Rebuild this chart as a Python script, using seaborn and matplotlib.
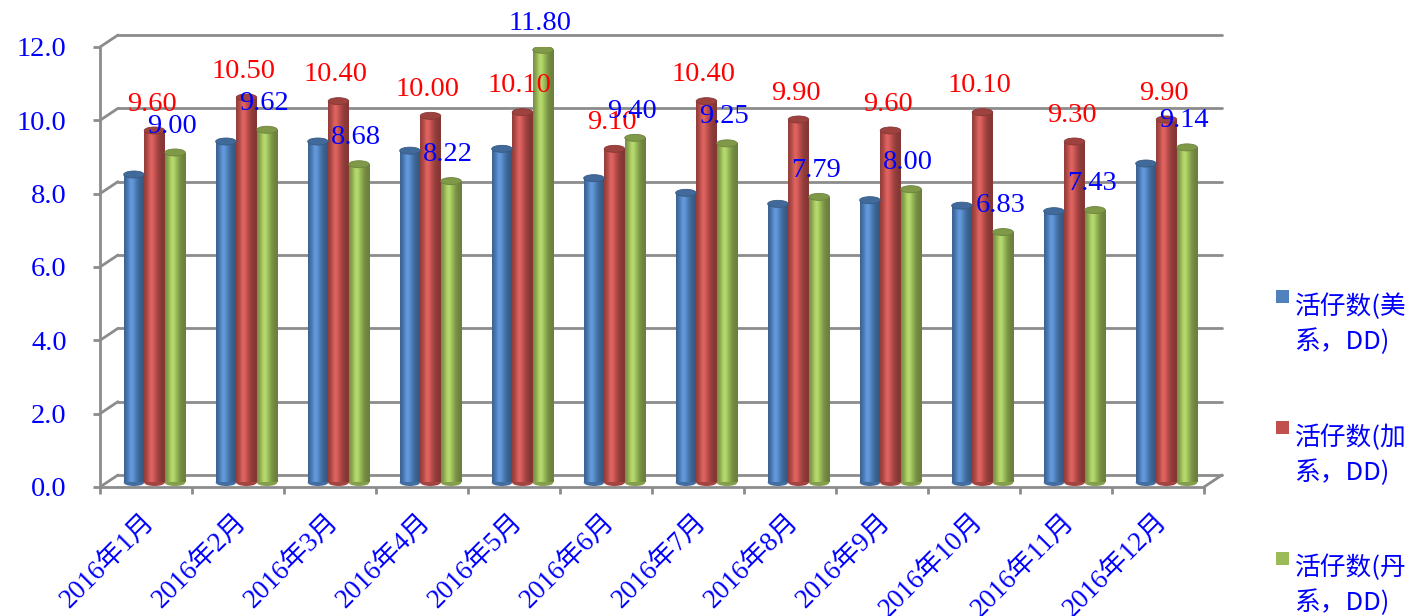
import numpy as np
import pandas as pd
import matplotlib
matplotlib.use("Agg")
import matplotlib.pyplot as plt
import matplotlib.transforms as mtransforms
from matplotlib.colors import to_rgb
from matplotlib.lines import Line2D
from matplotlib.patches import Ellipse, Rectangle
from matplotlib.legend_handler import HandlerPatch
import seaborn as sns

# ---- data -------------------------------------------------------------
months = ["2016年1月", "2016年2月", "2016年3月", "2016年4月", "2016年5月", "2016年6月",
          "2016年7月", "2016年8月", "2016年9月", "2016年10月", "2016年11月", "2016年12月"]
series = ["活仔数(美系，DD)", "活仔数(加系，DD)", "活仔数(丹系，DD)"]
us_vals = [8.40, 9.30, 9.30, 9.05, 9.10, 8.30, 7.90, 7.60, 7.70, 7.55, 7.40, 8.70]
ca_vals = [9.60, 10.50, 10.40, 10.00, 10.10, 9.10, 10.40, 9.90, 9.60, 10.10, 9.30, 9.90]
dk_vals = [9.00, 9.62, 8.68, 8.22, 11.80, 9.40, 9.25, 7.79, 8.00, 6.83, 7.43, 9.14]
y_ticks = [0, 2, 4, 6, 8, 10, 12]
y_tick_labels = ["0.0", "2.0", "4.0", "6.0", "8.0", "10.0", "12.0"]

bar_colors = ["#4F81BD", "#C0504D", "#9BBB59"]
value_label_colors = [None, "#FF0000", "#0000FF"]   # no labels on the first series
text_blue = "#0000FF"
frame_gray = "#8C8C8C"

df = pd.DataFrame({
    "month": months * 3,
    "series": [s for s in series for _ in months],
    "value": us_vals + ca_vals + dk_vals,
})

# ---- style ------------------------------------------------------------
sns.set_style("white")
plt.rcParams["font.family"] = ["Liberation Serif", "Noto Sans CJK SC", "DejaVu Sans"]

W, H, DPI = 1418, 616, 100
fig = plt.figure(figsize=(W / DPI, H / DPI), dpi=DPI)
ax = fig.add_axes([100 / W, (H - 487) / H, 1104 / W, 440 / H])

sns.barplot(data=df, x="month", y="value", hue="series", order=months,
            hue_order=series, palette=bar_colors, saturation=1, width=0.67,
            gap=0, errorbar=None, legend=False, ax=ax)
ax.set_xlim(-0.5, len(months) - 0.5)
ax.set_ylim(0, 12)

# depth offsets of the pseudo 3-D box (bars sit half way into the box)
bar_off = ax.transData + mtransforms.ScaledTranslation(8.5 / DPI, 4.5 / DPI, fig.dpi_scale_trans)
back_dx, back_dy = 18, 12


def cylinder_shades(color, n=80):
    base = np.array(to_rgb(color))
    t = np.linspace(0, 1, n)
    m = 0.68 + 0.42 * np.exp(-((t - 0.38) / 0.30) ** 2)
    rgb = np.clip(base[None, :] * m[:, None] + 0.05 * np.exp(-((t - 0.35) / 0.12) ** 2)[:, None], 0, 1)
    return rgb[None, :, :]


px_per_unit = 440 / 12
cap_h = 7 / px_per_unit

for k, cont in enumerate(ax.containers):
    for bar in cont:
        x0, w, h = bar.get_x(), bar.get_width(), bar.get_height()
        col = bar_colors[k]
        bar.set_transform(bar_off)
        bar.set_edgecolor("none")
        bar.set_zorder(2)
        img = ax.imshow(cylinder_shades(col), extent=[x0, x0 + w, 0, h], aspect="auto",
                        interpolation="bilinear", zorder=2.1, transform=bar_off)
        img.set_clip_path(bar)
        base = np.array(to_rgb(col))
        # rounded bottom and elliptic top of the cylinder
        ax.add_patch(Ellipse((x0 + w / 2, 0), w, cap_h, transform=bar_off,
                             facecolor=base * 0.85, edgecolor="none", zorder=2.05))
        ax.add_patch(Ellipse((x0 + w / 2, h), w, cap_h, transform=bar_off,
                             facecolor=np.clip(base * 0.82, 0, 1),
                             edgecolor=np.clip(base * 0.7, 0, 1), linewidth=0.6, zorder=2.2))
        if value_label_colors[k]:
            ax.annotate(f"{h:.2f}", xy=(x0 + w / 2, h), xycoords=bar_off,
                        xytext=(-2, 19), textcoords="offset points",
                        ha="center", va="center", fontsize=20.5,
                        color=value_label_colors[k], zorder=5)

ax.set_xlim(-0.5, len(months) - 0.5)
ax.set_ylim(0, 12)

# ---- pseudo 3-D frame -------------------------------------------------
ident = mtransforms.IdentityTransform()


def disp(x, y):
    return ax.transData.transform((x, y))


x_left, x_right = -0.5, len(months) - 0.5
for v in y_ticks:
    fx0, fy0 = disp(x_left, v)
    fx1, _ = disp(x_right, v)
    # back-wall gridline and left-wall edge
    ax.add_line(Line2D([fx0 + back_dx, fx1 + back_dx], [fy0 + back_dy, fy0 + back_dy],
                       transform=ident, color=frame_gray, lw=2, zorder=0.5, clip_on=False))
    ax.add_line(Line2D([fx0, fx0 + back_dx], [fy0, fy0 + back_dy],
                       transform=ident, color=frame_gray, lw=2, zorder=0.5, clip_on=False))
# floor, right edge
fx1, fy1 = disp(x_right, 0)
ax.add_line(Line2D([fx1, fx1 + back_dx], [fy1, fy1 + back_dy], transform=ident,
                   color=frame_gray, lw=2, zorder=0.5, clip_on=False))

for side in ["top", "right"]:
    ax.spines[side].set_visible(False)
for side in ["left", "bottom"]:
    ax.spines[side].set_color(frame_gray)
    ax.spines[side].set_linewidth(2)
    ax.spines[side].set_zorder(0.6)

ax.set_yticks(y_ticks)
ax.set_yticklabels(y_tick_labels)
ax.tick_params(axis="y", direction="out", length=5, width=2, color=frame_gray,
               pad=19, labelsize=20.5, labelcolor=text_blue, left=True)

ax.set_xticks(range(len(months)))
ax.set_xticklabels(months, rotation=45, ha="right", rotation_mode="anchor",
                   fontsize=19.5, color=text_blue)
ax.tick_params(axis="x", which="major", length=0, pad=22, bottom=True)
ax.set_xticks(np.arange(-0.5, len(months), 1.0), minor=True)
ax.tick_params(axis="x", which="minor", direction="out", length=5, width=2,
               color=frame_gray, bottom=True)
xlab_shift = mtransforms.ScaledTranslation(5 / DPI, 0, fig.dpi_scale_trans)
for lab in ax.get_xticklabels():
    lab.set_va("center")
    lab.set_transform(lab.get_transform() + xlab_shift)

ax.set_xlabel("")
ax.set_ylabel("")
ax.grid(False)
ax.set_facecolor("none")


# ---- legend -------------------------------------------------------------
def square_top(legend, orig_handle, xdescent, ydescent, width, height, fontsize):
    s = 0.5 * fontsize
    return Rectangle((width - s, height + 1.0 * fontsize - s), s, s)


handles = [Rectangle((0, 0), 1, 1, facecolor=c, edgecolor="none") for c in bar_colors]
labels = [s[:5] + "\n" + s[5:] for s in series]
leg = fig.legend(handles, labels, loc="upper left", bbox_to_anchor=(1261 / W, 1 - 283 / H),
                 frameon=False, fontsize=18.5, labelspacing=2.7, handlelength=0.7,
                 handleheight=0.7, handletextpad=0.2, borderaxespad=0,
                 handler_map={Rectangle: HandlerPatch(patch_func=square_top)})
for t in leg.get_texts():
    t.set_color(text_blue)
    t.set_family(["Noto Sans CJK SC", "DejaVu Sans"])
    t.set_linespacing(1.4)

fig.savefig("out.png", dpi=DPI, facecolor="white")
